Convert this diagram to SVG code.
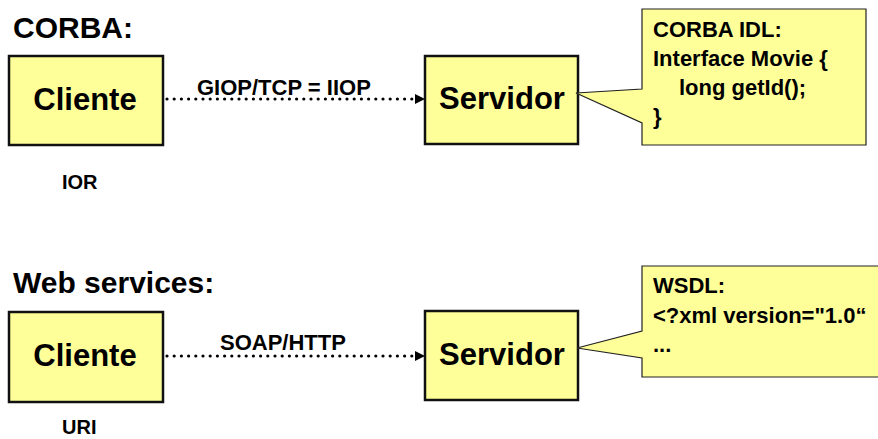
<svg xmlns="http://www.w3.org/2000/svg" width="878" height="439" viewBox="0 0 878 439">
  <defs>
    <style>
      text { font-family: "Liberation Sans", Arial, sans-serif; font-weight: bold; fill: #000; }
      .title { font-size: 30px; }
      .node rect { fill: #FFFF99; stroke: #111; stroke-width: 2.5; }
      .node text { font-size: 31px; text-anchor: middle; }
      .label { font-size: 22px; }
      .ref { font-size: 20px; }
      .callout path { fill: #FFFF99; stroke: #222; stroke-width: 1.2; }
      .callout text { font-size: 22px; }
      .conn line { stroke: #000; stroke-width: 3.2; stroke-linecap: round; stroke-dasharray: 0 7.2; }
    </style>
  </defs>
  <rect width="878" height="439" fill="#fff"/>

  <!-- CORBA section -->
  <text class="title" x="13" y="38">CORBA:</text>

  <g id="corba-cliente" class="node">
    <rect x="9" y="56" width="154" height="89"/>
    <text x="85" y="110">Cliente</text>
  </g>
  <g id="corba-servidor" class="node">
    <rect x="425" y="56" width="153" height="88"/>
    <text x="502" y="109">Servidor</text>
  </g>
  <g id="corba-idl" class="callout">
    <path d="M642,9 H866 V145 H642 V123 L576,93 L642,89 Z"/>
    <text x="653" y="37">CORBA IDL:</text>
    <text x="653" y="66">Interface Movie {</text>
    <text x="679" y="95">long getId();</text>
    <text x="653" y="124">}</text>
  </g>
  <text class="ref" x="62" y="189">IOR</text>

  <!-- Web services section -->
  <text class="title" x="13" y="293">Web services:</text>

  <g id="ws-cliente" class="node">
    <rect x="9" y="312" width="154" height="90"/>
    <text x="85" y="366">Cliente</text>
  </g>
  <g id="ws-servidor" class="node">
    <rect x="425" y="311" width="153" height="89"/>
    <text x="502" y="365">Servidor</text>
  </g>
  <g id="ws-wsdl" class="callout">
    <path d="M642,266 H884 V377 H642 V358 L577,348 L642,331 Z"/>
    <text x="653" y="293">WSDL:</text>
    <text x="653" y="323">&lt;?xml version="1.0“</text>
    <text x="653" y="352">...</text>
  </g>
  <text class="ref" x="62" y="434">URI</text>

  <!-- connectors -->
  <g id="connectors" class="conn">
    <line x1="167" y1="99" x2="420" y2="99"/>
    <path d="M415,94 L425,99 L415,104 Z" fill="#000"/>
    <text class="label" x="197" y="95">GIOP/TCP = IIOP</text>

    <line x1="167" y1="356" x2="420" y2="356"/>
    <path d="M415,351 L425,356 L415,361 Z" fill="#000"/>
    <text class="label" x="220" y="350">SOAP/HTTP</text>
  </g>
</svg>
